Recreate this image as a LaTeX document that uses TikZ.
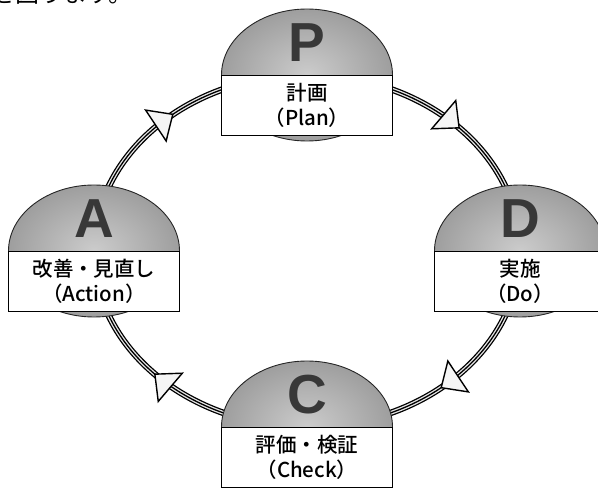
\documentclass[tikz,border=0pt]{standalone}
\usepackage{fontspec}
\setmainfont{Noto Sans CJK JP}
\newfontfamily\labelfont{Noto Sans CJK JP Medium}
\newfontfamily\letterfont{Liberation Sans}
\usetikzlibrary{shapes.geometric,arrows.meta,decorations.markings}

\begin{document}
\begin{tikzpicture}[x=1pt,y=1pt]
	\tikzstyle{PhaseStyle}  = [ellipse, draw=black!85, line width=0.9pt, minimum width=171pt, minimum height=132pt, inner sep=0pt, inner color=black!20, outer color=black!38]
	\tikzstyle{LetterStyle} = [font=\letterfont\bfseries\fontsize{55}{55}\selectfont, text=black!78, inner sep=0pt]
	\tikzstyle{LabelStyle}  = [rectangle, draw, fill=white, line width=0.9pt, minimum width=171pt, minimum height=60pt, anchor=north, align=center, font=\labelfont\fontsize{20.5}{25}\selectfont, inner sep=0pt]
	\tikzstyle{RingStyle}   = [line width=6.5pt, postaction={draw=black!10, line width=3.9pt}, postaction={draw, line width=1.3pt},
		decoration={markings, mark=at position 0.54 with {\arrow[line width=1.4pt]{Triangle[length=22pt, width=40pt, fill=black!4]}}}, postaction={decorate}]

	\useasboundingbox (0,0) rectangle (598,488);
	\node[anchor=base west, font=\fontsize{24}{24}\selectfont, inner sep=0pt] (intro) at (-9,485) {を図ります。};

	\coordinate (P) at (307,413); \coordinate (D) at (520,237);
	\coordinate (C) at (307,61);  \coordinate (A) at (94,237);

	% ring
	\draw[RingStyle] (P) arc[start angle=90, end angle=0, x radius=213pt, y radius=176pt];
	\draw[RingStyle] (D) arc[start angle=0, end angle=-90, x radius=213pt, y radius=176pt];
	\draw[RingStyle] (C) arc[start angle=-90, end angle=-180, x radius=213pt, y radius=176pt];
	\draw[RingStyle] (A) arc[start angle=180, end angle=90, x radius=213pt, y radius=176pt];

	% phases
	\node[PhaseStyle] (Plan) at (P) {};  \node[LetterStyle] (PlanKey) at ([yshift=32pt]Plan.center) {P};
	\node[LabelStyle] (PlanBox) at (Plan.center) {計画\\（Plan）};
	\node[PhaseStyle] (Do) at (D) {};  \node[LetterStyle] (DoKey) at ([yshift=32pt]Do.center) {D};
	\node[LabelStyle] (DoBox) at (Do.center) {実施\\（Do）};
	\node[PhaseStyle] (Check) at (C) {};  \node[LetterStyle] (CheckKey) at ([yshift=32pt]Check.center) {C};
	\node[LabelStyle] (CheckBox) at (Check.center) {評価・検証\\（Check）};
	\node[PhaseStyle] (Act) at (A) {};  \node[LetterStyle] (ActKey) at ([yshift=32pt]Act.center) {A};
	\node[LabelStyle] (ActBox) at (Act.center) {改善・見直し\\（Action）};
\end{tikzpicture}
\end{document}
